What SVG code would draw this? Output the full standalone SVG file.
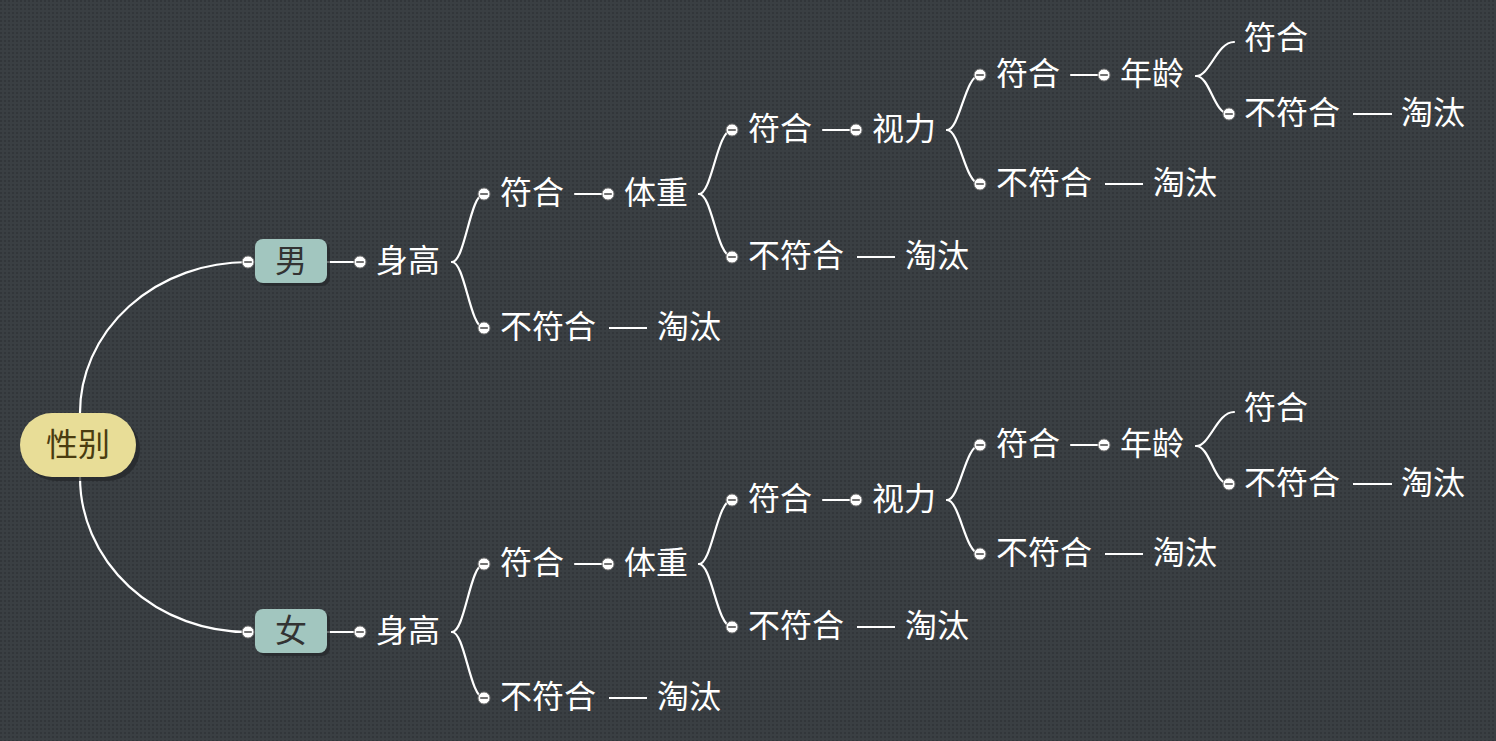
<svg xmlns="http://www.w3.org/2000/svg" xmlns:xlink="http://www.w3.org/1999/xlink" width="1496" height="741" viewBox="0 0 1496 741">
<style>
.t{font-family:"Noto Sans CJK SC","Noto Sans",sans-serif;font-size:32px;fill:#ffffff;dominant-baseline:central}
.dk{fill:#333333}
.rt{fill:#4a3c10;text-anchor:middle}
.c{fill:none;stroke:#ffffff;stroke-width:2.2;stroke-linecap:round}
.s{fill:none;stroke:#ffffff;stroke-width:1.8}
</style>
<defs>
<pattern id="bg" width="4" height="4" patternUnits="userSpaceOnUse">
<rect width="4" height="4" fill="#3a3f43"/>
<rect width="2" height="2" fill="#32363a"/>
</pattern>
<g id="knob">
<circle r="6" fill="#ffffff" stroke="#7a7a7a" stroke-width="1"/>
<line x1="-3.8" y1="0" x2="3.8" y2="0" stroke="#5a5a5a" stroke-width="1.7"/>
</g>
</defs>
<rect width="1496" height="741" fill="url(#bg)"/>

<g id="connectors">
<path class="c" d="M80,413 A168,151 0 0 1 248,262"/>
<path class="c" d="M80,477 A168,155 0 0 0 248,632"/>
<g id="conn-male">
<line class="c" x1="327" y1="262" x2="360" y2="262"/>
<path class="c" d="M452,262 C465,262 470,194 484,194"/>
<path class="c" d="M452,262 C465,262 470,328 484,328"/>
<line class="c" x1="575" y1="194" x2="608" y2="194"/>
<line class="s" x1="609" y1="328" x2="647" y2="328"/>
<path class="c" d="M699,194 C712,194 717,130 732,130"/>
<path class="c" d="M699,194 C712,194 717,257 732,257"/>
<line class="c" x1="823" y1="130" x2="856" y2="130"/>
<line class="s" x1="857" y1="257" x2="895" y2="257"/>
<path class="c" d="M947,130 C960,130 965,75 980,75"/>
<path class="c" d="M947,130 C960,130 965,184 980,184"/>
<line class="c" x1="1071" y1="75" x2="1104" y2="75"/>
<line class="s" x1="1105" y1="184" x2="1143" y2="184"/>
<path class="c" d="M1196,76 C1210,76 1217,42 1234,42"/>
<path class="c" d="M1196,76 C1210,76 1214,114 1229,114"/>
<line class="s" x1="1353" y1="114" x2="1392" y2="114"/>
<use xlink:href="#knob" x="248" y="262"/>
<use xlink:href="#knob" x="360" y="262"/>
<use xlink:href="#knob" x="484" y="194"/>
<use xlink:href="#knob" x="484" y="328"/>
<use xlink:href="#knob" x="608" y="194"/>
<use xlink:href="#knob" x="732" y="130"/>
<use xlink:href="#knob" x="732" y="257"/>
<use xlink:href="#knob" x="856" y="130"/>
<use xlink:href="#knob" x="980" y="75"/>
<use xlink:href="#knob" x="980" y="184"/>
<use xlink:href="#knob" x="1104" y="75"/>
<use xlink:href="#knob" x="1229" y="114"/>
</g>
<use id="conn-female" xlink:href="#conn-male" transform="translate(0,370)"/>
</g>

<g id="root">
<rect x="24" y="417" width="116" height="64" rx="32" fill="#23272a" opacity="0.7"/>
<rect x="20" y="413" width="116" height="64" rx="32" fill="#e8dd97"/>
<text class="t rt" x="78" y="442">性别</text>
</g>

<g id="male-tree">
<g id="n-male">
<rect x="258" y="242" width="72" height="44" rx="8" fill="#23272a" opacity="0.7"/>
<rect x="255" y="239" width="72" height="44" rx="8" fill="#a2c6bf"/>
<text class="t dk" x="291" y="258" text-anchor="middle">男</text>
</g>
<g id="m-height"><text class="t" x="376" y="258">身高</text></g>
<g id="m-h-ok"><text class="t" x="500" y="190">符合</text></g>
<g id="m-h-no"><text class="t" x="500" y="324">不符合</text></g>
<g id="m-h-no-out"><text class="t" x="657" y="324">淘汰</text></g>
<g id="m-weight"><text class="t" x="624" y="190">体重</text></g>
<g id="m-w-ok"><text class="t" x="748" y="126">符合</text></g>
<g id="m-w-no"><text class="t" x="748" y="253">不符合</text></g>
<g id="m-w-no-out"><text class="t" x="905" y="253">淘汰</text></g>
<g id="m-vision"><text class="t" x="872" y="126">视力</text></g>
<g id="m-v-ok"><text class="t" x="996" y="71">符合</text></g>
<g id="m-v-no"><text class="t" x="996" y="180">不符合</text></g>
<g id="m-v-no-out"><text class="t" x="1153" y="180">淘汰</text></g>
<g id="m-age"><text class="t" x="1120" y="71">年龄</text></g>
<g id="m-a-ok"><text class="t" x="1244" y="35">符合</text></g>
<g id="m-a-no"><text class="t" x="1244" y="110">不符合</text></g>
<g id="m-a-no-out"><text class="t" x="1401" y="110">淘汰</text></g>
</g>

<g id="female-tree" transform="translate(0,370)">
<g id="n-female">
<rect x="258" y="242" width="72" height="44" rx="8" fill="#23272a" opacity="0.7"/>
<rect x="255" y="239" width="72" height="44" rx="8" fill="#a2c6bf"/>
<text class="t dk" x="291" y="258" text-anchor="middle">女</text>
</g>
<g id="f-height"><text class="t" x="376" y="258">身高</text></g>
<g id="f-h-ok"><text class="t" x="500" y="190">符合</text></g>
<g id="f-h-no"><text class="t" x="500" y="324">不符合</text></g>
<g id="f-h-no-out"><text class="t" x="657" y="324">淘汰</text></g>
<g id="f-weight"><text class="t" x="624" y="190">体重</text></g>
<g id="f-w-ok"><text class="t" x="748" y="126">符合</text></g>
<g id="f-w-no"><text class="t" x="748" y="253">不符合</text></g>
<g id="f-w-no-out"><text class="t" x="905" y="253">淘汰</text></g>
<g id="f-vision"><text class="t" x="872" y="126">视力</text></g>
<g id="f-v-ok"><text class="t" x="996" y="71">符合</text></g>
<g id="f-v-no"><text class="t" x="996" y="180">不符合</text></g>
<g id="f-v-no-out"><text class="t" x="1153" y="180">淘汰</text></g>
<g id="f-age"><text class="t" x="1120" y="71">年龄</text></g>
<g id="f-a-ok"><text class="t" x="1244" y="35">符合</text></g>
<g id="f-a-no"><text class="t" x="1244" y="110">不符合</text></g>
<g id="f-a-no-out"><text class="t" x="1401" y="110">淘汰</text></g>
</g>
</svg>
